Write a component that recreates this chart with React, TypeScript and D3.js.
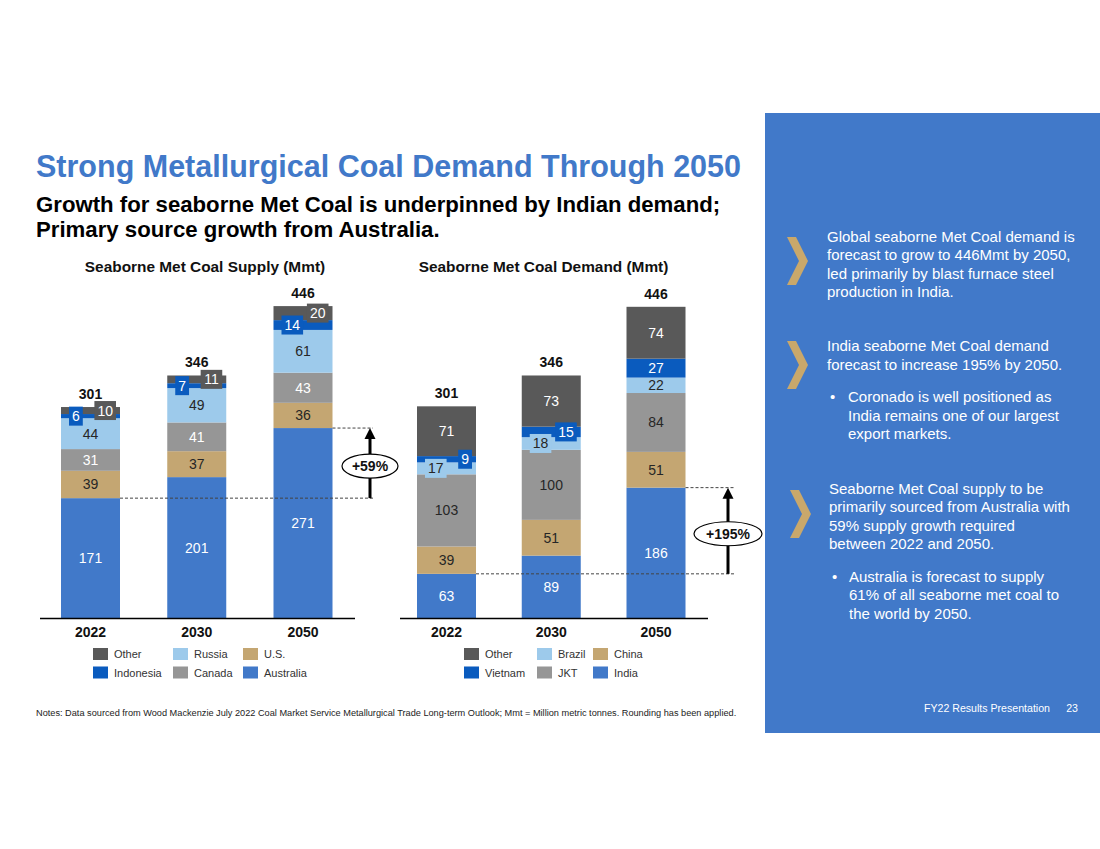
import React from 'react';
import * as d3 from 'd3';

const years = ['2022', '2030', '2050'];

const supplyKeys = ['Australia', 'U.S.', 'Canada', 'Russia', 'Indonesia', 'Other'];
const supplyAustralia = [171, 201, 271];
const supplyUS = [39, 37, 36];
const supplyCanada = [31, 41, 43];
const supplyRussia = [44, 49, 61];
const supplyIndonesia = [6, 7, 14];
const supplyOther = [10, 11, 20];
const supplyTotals = [301, 346, 446];

const demandKeys = ['India', 'China', 'JKT', 'Brazil', 'Vietnam', 'Other'];
const demandIndia = [63, 89, 186];
const demandChina = [39, 51, 51];
const demandJKT = [103, 100, 84];
const demandBrazil = [17, 18, 22];
const demandVietnam = [9, 15, 27];
const demandOther = [71, 73, 74];
const demandTotals = [301, 346, 446];

const supplyGrowth = '+59%';
const demandGrowth = '+195%';

const FONT = "'Liberation Sans', Arial, sans-serif";
const C_BLUE = '#4179C9';
const C_TAN = '#C4A672';
const C_GRAY = '#969696';
const C_LBLUE = '#9DCAEB';
const C_DBLUE = '#0A5BBE';
const C_DGRAY = '#595959';
const DARK = '#262626';
const seriesColors = [C_BLUE, C_TAN, C_GRAY, C_LBLUE, C_DBLUE, C_DGRAY];

const yScale = d3.scaleLinear().domain([0, 446]).range([618, 305.4]);
const BAR_W = 59;

type ChartProps = {
  keys: string[];
  values: number[][];
  totals: number[];
  xRange: [number, number];
  axisRange: [number, number];
  labelColors: string[];
  leftSmall: number;
  rightSmall: number;
  title: string;
  titleX: number;
  legendX: number[];
  legendCols: string[][];
  growth: string;
  growthX: number;
  dashEnd: number;
  ellipseRx: number;
};

function StackChart(p: ChartProps) {
  const rows = years.map((yr, i) => {
    const r: any = { year: yr };
    p.keys.forEach((k, j) => (r[k] = p.values[j][i]));
    return r;
  });
  const stack = d3.stack<any>().keys(p.keys)(rows);
  const x = d3.scalePoint<string>().domain(years).range(p.xRange);
  const cx = (yr: string) => x(yr) as number;
  const baseTop = yScale(p.values[0][0]);
  const endTop = yScale(p.values[0][2]);
  const lastX = cx(years[2]) + BAR_W / 2;
  const firstX = cx(years[0]) + BAR_W / 2;
  return (
    <g>
      <text x={p.titleX} y={272} textAnchor="middle" fontFamily={FONT} fontWeight="bold" fontSize={15.4} fill="#111">
        {p.title}
      </text>
      {stack.map((layer, j) => (
        <g key={p.keys[j]}>
          {layer.map((d, i) => (
            <rect key={i} x={cx(years[i]) - BAR_W / 2} y={yScale(d[1])} width={BAR_W} height={yScale(d[0]) - yScale(d[1])} fill={seriesColors[j]} />
          ))}
        </g>
      ))}
      {stack.map((layer, j) =>
        layer.map((d, i) => {
          const v = d[1] - d[0];
          const h = yScale(d[0]) - yScale(d[1]);
          const yc = (yScale(d[0]) + yScale(d[1])) / 2;
          const label = String(p.values[j][i]);
          const small = h < 15;
          if (small && (j === p.leftSmall || j === p.rightSmall)) {
            const tw = label.length * 7.8 + 6;
            const bx = j === p.leftSmall ? cx(years[i]) - BAR_W / 2 + 8 + tw / 2 : cx(years[i]) + BAR_W / 2 - 4 - tw / 2;
            return (
              <g key={`l${j}-${i}`}>
                <rect x={bx - tw / 2} y={yc - 9.5} width={tw} height={19} fill={seriesColors[j]} />
                <text x={bx} y={yc + 5} textAnchor="middle" fontFamily={FONT} fontSize={14} fill={p.labelColors[j]}>
                  {label}
                </text>
              </g>
            );
          }
          return (
            <text key={`l${j}-${i}`} x={cx(years[i])} y={yc + 5} textAnchor="middle" fontFamily={FONT} fontSize={14} fill={p.labelColors[j]}>
              {v > 0 ? label : ''}
            </text>
          );
        })
      )}
      {years.map((yr, i) => (
        <text key={`t${yr}`} x={cx(yr)} y={yScale(stack[stack.length - 1][i][1]) - 8} textAnchor="middle" fontFamily={FONT} fontWeight="bold" fontSize={14} fill="#111">
          {p.totals[i]}
        </text>
      ))}
      <line x1={p.axisRange[0]} x2={p.axisRange[1]} y1={618.5} y2={618.5} stroke="#000" strokeWidth={1.3} />
      {years.map((yr) => (
        <text key={`y${yr}`} x={cx(yr)} y={637} textAnchor="middle" fontFamily={FONT} fontWeight="bold" fontSize={14} fill="#111">
          {yr}
        </text>
      ))}
      {/* growth annotation */}
      <line x1={firstX} x2={p.dashEnd} y1={baseTop} y2={baseTop} stroke="#444" strokeWidth={1} strokeDasharray="3,2" />
      <line x1={lastX} x2={p.dashEnd} y1={endTop} y2={endTop} stroke="#444" strokeWidth={1} strokeDasharray="3,2" />
      <line x1={p.growthX} x2={p.growthX} y1={baseTop} y2={endTop + 9} stroke="#000" strokeWidth={3} />
      <path d={`M${p.growthX - 5.5},${endTop + 11} L${p.growthX},${endTop} L${p.growthX + 5.5},${endTop + 11} Z`} fill="#000" />
      <ellipse cx={p.growthX} cy={(baseTop + endTop) / 2 + 3} rx={p.ellipseRx} ry={12} fill="#fff" stroke="#000" strokeWidth={1.2} />
      <text x={p.growthX} y={(baseTop + endTop) / 2 + 8} textAnchor="middle" fontFamily={FONT} fontWeight="bold" fontSize={14} fill="#111">
        {p.growth}
      </text>
      {/* legend */}
      {p.legendCols.map((col, ci) =>
        col.map((name, ri) => {
          const idx = p.keys.indexOf(name);
          return (
            <g key={`lg${ci}-${ri}`}>
              <rect x={p.legendX[ci]} y={648 + ri * 18.5} width={15} height={12} fill={seriesColors[idx]} />
              <text x={p.legendX[ci] + 21} y={658 + ri * 18.5} fontFamily={FONT} fontSize={11} fill="#333">
                {name}
              </text>
            </g>
          );
        })
      )}
    </g>
  );
}

function Chevron({ x, y }: { x: number; y: number }) {
  const w = 21;
  const h = 48;
  const t = 9;
  return (
    <path
      d={`M${x},${y} L${x + t},${y} L${x + w},${y + h / 2} L${x + t},${y + h} L${x},${y + h} L${x + w - t},${y + h / 2} Z`}
      fill="#C9A86B"
    />
  );
}

export default function App() {
  const panelText = { fontFamily: FONT, fontSize: 15, fill: '#fff' } as const;
  return (
    <div style={{ position: 'absolute', left: 0, top: 0 }}>
      <svg width={1100} height={849} style={{ display: 'block', background: '#fff' }}>
        <text x={36} y={177} fontFamily={FONT} fontWeight="bold" fontSize={30.5} fill={C_BLUE}>
          Strong Metallurgical Coal Demand Through 2050
        </text>
        <text x={36} y={212} fontFamily={FONT} fontWeight="bold" fontSize={22.2} fill="#000">
          Growth for seaborne Met Coal is underpinned by Indian demand;
        </text>
        <text x={36} y={237} fontFamily={FONT} fontWeight="bold" fontSize={22.2} fill="#000">
          Primary source growth from Australia.
        </text>

        <StackChart
          keys={supplyKeys}
          values={[supplyAustralia, supplyUS, supplyCanada, supplyRussia, supplyIndonesia, supplyOther]}
          totals={supplyTotals}
          xRange={[90.5, 303]}
          axisRange={[40, 355]}
          labelColors={['#fff', DARK, '#fff', DARK, '#fff', '#fff']}
          leftSmall={4}
          rightSmall={5}
          title="Seaborne Met Coal Supply (Mmt)"
          titleX={205}
          legendX={[93, 173, 243]}
          legendCols={[['Other', 'Indonesia'], ['Russia', 'Canada'], ['U.S.', 'Australia']]}
          growth={supplyGrowth}
          growthX={370}
          dashEnd={373}
          ellipseRx={28}
        />
        <StackChart
          keys={demandKeys}
          values={[demandIndia, demandChina, demandJKT, demandBrazil, demandVietnam, demandOther]}
          totals={demandTotals}
          xRange={[446.5, 656]}
          axisRange={[400, 708]}
          labelColors={['#fff', DARK, DARK, DARK, '#fff', '#fff']}
          leftSmall={3}
          rightSmall={4}
          title="Seaborne Met Coal Demand (Mmt)"
          titleX={543.5}
          legendX={[464, 537, 593]}
          legendCols={[['Other', 'Vietnam'], ['Brazil', 'JKT'], ['China', 'India']]}
          growth={demandGrowth}
          growthX={728}
          dashEnd={734}
          ellipseRx={34}
        />

        <text x={36} y={716} fontFamily={FONT} fontSize={9.2} fill="#222">
          Notes: Data sourced from Wood Mackenzie July 2022 Coal Market Service Metallurgical Trade Long-term Outlook; Mmt = Million metric tonnes. Rounding has been applied.
        </text>

        {/* right panel */}
        <rect x={765} y={113} width={335} height={620} fill={C_BLUE} />
        <Chevron x={787} y={237} />
        <Chevron x={787} y={341} />
        <Chevron x={790} y={490} />
        <g {...panelText}>
          <text x={827} y={242}>Global seaborne Met Coal demand is</text>
          <text x={827} y={260}>forecast to grow to 446Mmt by 2050,</text>
          <text x={827} y={278.5}>led primarily by blast furnace steel</text>
          <text x={827} y={297}>production in India.</text>

          <text x={827} y={351}>India seaborne Met Coal demand</text>
          <text x={827} y={370}>forecast to increase 195% by 2050.</text>
          <text x={830} y={402}>•</text>
          <text x={848} y={402}>Coronado is well positioned as</text>
          <text x={848} y={421}>India remains one of our largest</text>
          <text x={848} y={439}>export markets.</text>

          <text x={829} y={494}>Seaborne Met Coal supply to be</text>
          <text x={829} y={512}>primarily sourced from Australia with</text>
          <text x={829} y={531}>59% supply growth required</text>
          <text x={829} y={549}>between 2022 and 2050.</text>
          <text x={832} y={582}>•</text>
          <text x={849} y={582}>Australia is forecast to supply</text>
          <text x={849} y={600}>61% of all seaborne met coal to</text>
          <text x={849} y={619}>the world by 2050.</text>
        </g>
        <text x={1050} y={712} textAnchor="end" fontFamily={FONT} fontSize={10.6} fill="#fff">
          FY22 Results Presentation
        </text>
        <text x={1078} y={712} textAnchor="end" fontFamily={FONT} fontSize={10.6} fill="#fff">
          23
        </text>
      </svg>
    </div>
  );
}
